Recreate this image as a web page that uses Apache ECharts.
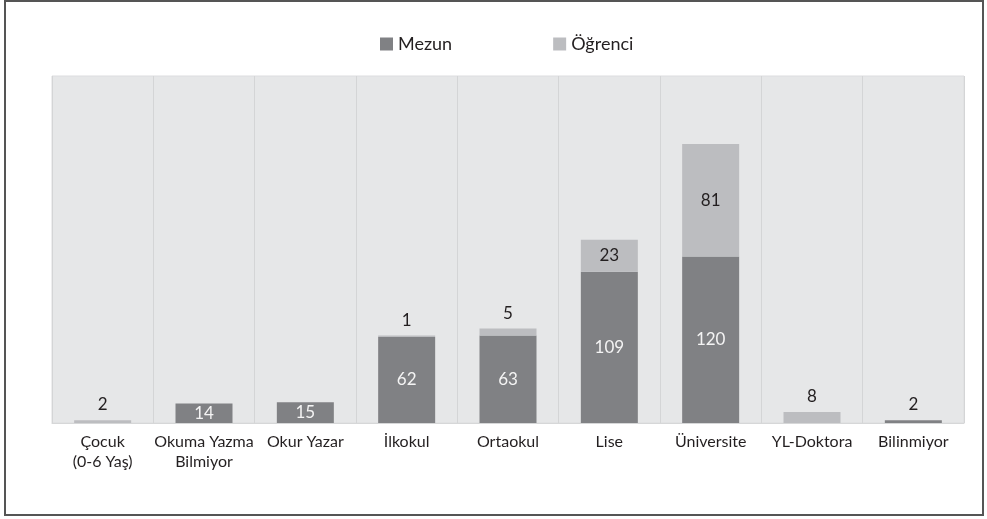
<!DOCTYPE html>
<html>
<head>
<meta charset="utf-8">
<script src="https://cdn.jsdelivr.net/npm/echarts@6/dist/echarts.min.js"></script>
<style>
  html, body { margin: 0; padding: 0; background: #ffffff; }
  #chart { width: 987px; height: 519px; }
</style>
</head>
<body>
<div id="chart"></div>
<script>
// Education levels and counts
const categories = ['Çocuk\n(0-6 Yaş)', 'Okuma Yazma\nBilmiyor', 'Okur Yazar', 'İlkokul', 'Ortaokul', 'Lise', 'Üniversite', 'YL-Doktora', 'Bilinmiyor'];
const mezun = [0, 14, 15, 62, 63, 109, 120, 0, 2];
const ogrenci = [2, 0, 0, 1, 5, 23, 81, 8, 0];

const FONT = 'Lato';
const DARK = '#808184';
const LIGHT = '#bcbdc0';

// Values too small to hold a label inside the bar get it above the bar
function toItems(values, insideColor) {
  return values.map(v => ({
    value: v,
    label: v >= 10
      ? { position: 'inside', color: insideColor }
      : { position: 'top', distance: 7, color: '#231f20' }
  }));
}

const chart = echarts.init(document.getElementById('chart'), null, { renderer: 'canvas' });

chart.setOption({
  animation: false,
  backgroundColor: '#ffffff',
  textStyle: { fontFamily: FONT },
  graphic: [{
    type: 'rect',
    shape: { x: 5, y: 1, width: 978, height: 514 },
    style: { fill: 'none', stroke: '#555555', lineWidth: 2 },
    silent: true
  }],
  legend: {
    top: 30,
    left: 375,
    itemGap: 101,
    itemWidth: 13,
    itemHeight: 13,
    icon: 'rect',
    textStyle: { fontFamily: FONT, fontSize: 18, color: '#231f20' },
    data: ['Mezun', 'Öğrenci']
  },
  grid: {
    left: 52, top: 76, width: 912, height: 347,
    show: true,
    backgroundColor: '#e6e7e8',
    borderColor: '#dcdddf',
    borderWidth: 1,
    containLabel: false
  },
  xAxis: {
    type: 'category',
    data: categories,
    axisLine: { show: true, lineStyle: { color: '#d6d7d8' } },
    axisTick: { show: false },
    splitLine: { show: true, interval: 0, lineStyle: { color: '#d4d5d6', width: 1 } },
    axisLabel: {
      interval: 0,
      margin: 9,
      fontFamily: FONT,
      fontSize: 16,
      lineHeight: 20,
      color: '#231f20'
    }
  },
  yAxis: {
    type: 'value',
    min: 0,
    max: 250,
    show: false,
    splitLine: { show: false }
  },
  series: [
    {
      name: 'Mezun',
      type: 'bar',
      stack: 'total',
      barWidth: 57,
      itemStyle: { color: DARK },
      label: {
        show: true,
        fontFamily: FONT,
        fontSize: 17,
        formatter: p => (p.value ? p.value : '')
      },
      data: toItems(mezun, '#f4f4f4')
    },
    {
      name: 'Öğrenci',
      type: 'bar',
      stack: 'total',
      barWidth: 57,
      itemStyle: { color: LIGHT },
      label: {
        show: true,
        fontFamily: FONT,
        fontSize: 17,
        formatter: p => (p.value ? p.value : '')
      },
      data: toItems(ogrenci, '#231f20')
    }
  ]
});
</script>
</body>
</html>
